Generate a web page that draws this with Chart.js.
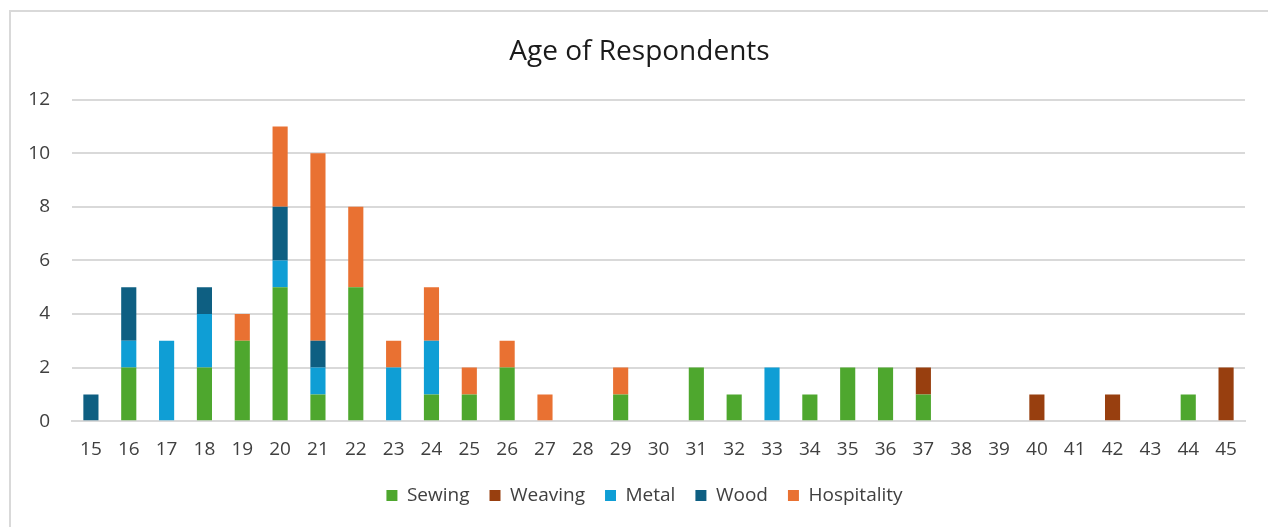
<!DOCTYPE html>
<html>
<head>
<meta charset="utf-8">
<title>Age of Respondents</title>
<script src="https://cdn.jsdelivr.net/npm/chart.js@4.4.1/dist/chart.umd.min.js"></script>
<style>
    html, body { margin: 0; padding: 0; background: #fff; }
    #frame {
        position: absolute;
        left: 9px;
        top: 10px;
        width: 1259px;
        height: 517px;
        border-top: 2px solid #d9d9d9;
        border-left: 2px solid #d9d9d9;
        box-sizing: border-box;
    }
    #ageChart { display: block; }
</style>
</head>
<body>
<div id="frame">
    <canvas id="ageChart" width="1257" height="515"></canvas>
</div>
<script>
// Respondent ages and counts per trade
const ages = ['15', '16', '17', '18', '19', '20', '21', '22', '23', '24', '25', '26', '27', '28', '29', '30',
    '31', '32', '33', '34', '35', '36', '37', '38', '39', '40', '41', '42', '43', '44', '45'];

const sewing =      [0, 2, 0, 2, 3, 5, 1, 5, 0, 1, 1, 2, 0, 0, 1, 0, 2, 1, 0, 1, 2, 2, 1, 0, 0, 0, 0, 0, 0, 1, 0];
const weaving =     [0, 0, 0, 0, 0, 0, 0, 0, 0, 0, 0, 0, 0, 0, 0, 0, 0, 0, 0, 0, 0, 0, 1, 0, 0, 1, 0, 1, 0, 0, 2];
const metal =       [0, 1, 3, 2, 0, 1, 1, 0, 2, 2, 0, 0, 0, 0, 0, 0, 0, 0, 2, 0, 0, 0, 0, 0, 0, 0, 0, 0, 0, 0, 0];
const wood =        [1, 2, 0, 1, 0, 2, 1, 0, 0, 0, 0, 0, 0, 0, 0, 0, 0, 0, 0, 0, 0, 0, 0, 0, 0, 0, 0, 0, 0, 0, 0];
const hospitality = [0, 0, 0, 0, 1, 3, 7, 3, 1, 2, 1, 1, 1, 0, 1, 0, 0, 0, 0, 0, 0, 0, 0, 0, 0, 0, 0, 0, 0, 0, 0];

const FONT = "'Open Sans', 'Noto Sans', sans-serif";

function series(label, data, color) {
    return {
        label: label,
        data: data,
        backgroundColor: color,
        borderWidth: 0,
        categoryPercentage: 1.0,
        barPercentage: 0.4
    };
}

// pull the legend a little closer to the axis labels
const legendNudge = {
    id: 'legendNudge',
    afterLayout(chart) {
        chart.legend.top -= 12;
        chart.legend.bottom -= 12;
        chart.legend.left += 5;
        chart.legend.right += 5;
    }
};

const ctx = document.getElementById('ageChart').getContext('2d');

new Chart(ctx, {
    type: 'bar',
    data: {
        labels: ages,
        datasets: [
            series('Sewing', sewing, '#4ea72e'),
            series('Weaving', weaving, '#983f0f'),
            series('Metal', metal, '#0f9ed5'),
            series('Wood', wood, '#0e5f82'),
            series('Hospitality', hospitality, '#e97132')
        ]
    },
    plugins: [legendNudge],
    options: {
        responsive: false,
        animation: false,
        layout: {
            padding: { left: 0, right: 0, top: 0, bottom: 0 }
        },
        plugins: {
            title: {
                display: true,
                text: 'Age of Respondents',
                color: '#1a1a1a',
                font: { family: FONT, size: 28, weight: 'normal' },
                padding: { top: 23, bottom: 31 }
            },
            legend: {
                position: 'bottom',
                labels: {
                    color: '#404040',
                    font: { family: FONT, size: 19 },
                    boxWidth: 11,
                    boxHeight: 11,
                    padding: 20
                }
            },
            tooltip: { enabled: false }
        },
        scales: {
            x: {
                stacked: true,
                grid: { display: false, drawTicks: false },
                border: { display: true, color: '#d9d9d9', width: 2 },
                ticks: {
                    color: '#404040',
                    font: { family: FONT, size: 19 },
                    padding: 17,
                    maxRotation: 0,
                    autoSkip: false
                }
            },
            y: {
                stacked: true,
                min: 0,
                max: 12,
                grid: { color: '#d9d9d9', lineWidth: 2, drawTicks: false },
                border: { display: false },
                ticks: {
                    stepSize: 2,
                    color: '#404040',
                    font: { family: FONT, size: 19 },
                    padding: 22
                },
                afterFit: function (scale) {
                    scale.width = 61;
                }
            },
            // empty right-hand margin so the title and legend centre on the full width
            margin: {
                position: 'right',
                display: true,
                grid: { display: false, drawTicks: false },
                border: { display: false },
                ticks: { display: false },
                afterFit: function (scale) {
                    scale.width = 23;
                }
            }
        }
    }
});
</script>
</body>
</html>
